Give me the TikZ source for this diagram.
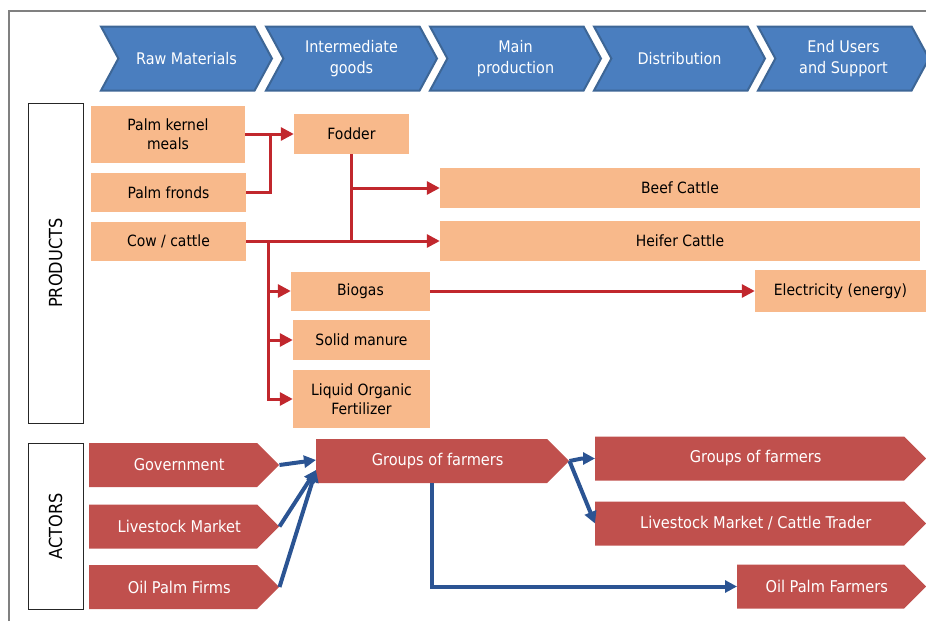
\documentclass[tikz,border=0pt]{standalone}
\usepackage{fontspec}
\setmainfont{DejaVu Sans Condensed}
\usetikzlibrary{shapes.symbols,arrows.meta,calc}

\definecolor{stageblue}{HTML}{4A7EBF}
\definecolor{stageedge}{HTML}{3D6696}
\definecolor{peach}{HTML}{F8B98B}
\definecolor{flowred}{HTML}{C1272D}
\definecolor{actorred}{HTML}{C0504D}
\definecolor{flowblue}{HTML}{2B5493}
\definecolor{framegray}{HTML}{808080}

\begin{document}
\begin{tikzpicture}[x=1pt,y=-1pt,
  stage/.style={signal, signal from=west, signal to=east, signal pointer angle=123,
    fill=stageblue, draw=stageedge, line width=2pt, minimum width=171pt, minimum height=64pt,
    inner sep=0pt, text=white, align=center, font=\fontsize{16}{21}\selectfont},
  prod/.style={fill=peach, inner sep=0pt, align=center, font=\fontsize{15.5}{19.5}\selectfont},
  actor/.style={signal, signal to=east, signal pointer angle=90, fill=actorred,
    inner sep=0pt, minimum height=44pt, anchor=west, text=white, font=\fontsize{16.2}{19}\selectfont,
    execute at begin node=\hspace*{12pt}},
  sidebox/.style={draw=black!85, line width=1pt, rotate=90, minimum height=55pt,
    inner sep=0pt, font=\fontsize{18}{20}\selectfont},
  redflow/.style={flowred, line width=3pt},
  blueflow/.style={flowblue, line width=4pt},
  redtip/.style={-{Triangle[length=13pt,width=13pt]}},
  bluetip/.style={-{Triangle[length=12pt,width=12pt]}}]
  \useasboundingbox (0,0) rectangle (926,621);
  \draw[framegray, line width=1.5pt] (9,621) -- (9,11) -- (926,11);

  % stages
  \node[stage] (raw) at (186.5,58.5) {Raw Materials};
  \node[stage] (inter) at (351.5,58.5) {Intermediate\\goods};
  \node[stage] (mainp) at (515.5,58.5) {Main\\production};
  \node[stage] (distr) at (679.5,58.5) {Distribution};
  \node[stage] (endu) at (843.5,58.5) {End Users\\and Support};

  % products
  \node[sidebox, minimum width=320pt] (products) at (55.5,263) {PRODUCTS};
  \node[prod, minimum width=154pt, minimum height=57pt] (pkm) at (168,134) {Palm kernel\\meals};
  \node[prod, minimum width=155pt, minimum height=39pt] (fronds) at (168.5,192.5) {Palm fronds};
  \node[prod, minimum width=155pt, minimum height=39pt] (cow) at (168.5,241) {Cow / cattle};
  \node[prod, minimum width=115pt, minimum height=40pt] (fodder) at (351.5,134) {Fodder};
  \node[prod, minimum width=480pt, minimum height=40pt] (beef) at (680,188) {Beef Cattle};
  \node[prod, minimum width=480pt, minimum height=40pt] (heifer) at (680,241) {Heifer Cattle};
  \node[prod, minimum width=139pt, minimum height=39pt] (biogas) at (360.5,291) {Biogas};
  \node[prod, minimum width=171pt, minimum height=42pt] (elec) at (840.5,291) {Electricity (energy)};
  \node[prod, minimum width=137pt, minimum height=40pt] (solid) at (361.5,340) {Solid manure};
  \node[prod, minimum width=137pt, minimum height=58pt] (liquid) at (361.5,399) {Liquid Organic\\Fertilizer};

  \coordinate (feed) at (270,134);
  \coordinate (manure) at ([xshift=22pt]cow.east);
  \draw[redflow, redtip] (pkm.east) -- (fodder.west);
  \draw[redflow] (fronds.east) -| (feed);
  \draw[redflow] (fodder.south) -- (fodder.south |- heifer.west);
  \draw[redflow, redtip] (fodder.south |- beef.west) -- (beef.west);
  \draw[redflow, redtip] (cow.east) -- (heifer.west);
  \draw[redflow, redtip] (manure) |- (liquid.west);
  \draw[redflow, redtip] (manure |- biogas.west) -- (biogas.west);
  \draw[redflow, redtip] (manure |- solid.west) -- (solid.west);
  \draw[redflow, redtip] (biogas.east) -- (elec.west);

  % actors
  \node[sidebox, minimum width=166pt] (actors) at (55.5,526) {ACTORS};
  \node[actor, minimum width=190pt] (gov) at (89,465) {Government};
  \node[actor, minimum width=190pt] (lm) at (89,526.5) {Livestock Market};
  \node[actor, minimum width=190pt] (opf) at (89,587) {Oil Palm Firms};
  \node[actor, minimum width=253pt] (gof) at (316,461) {Groups of farmers};
  \node[actor, minimum width=331pt] (gof2) at (595,458.5) {Groups of farmers};
  \node[actor, minimum width=331pt] (lmct) at (595,523.5) {Livestock Market / Cattle Trader};
  \node[actor, minimum width=189pt] (opfm) at (737,586.5) {Oil Palm Farmers};

  \draw[blueflow, bluetip] (gov.east) -- ([yshift=1pt]gof.west);
  \draw[blueflow, bluetip] (lm.east) -- ([yshift=-9pt]gof.west);
  \draw[blueflow, bluetip] (opf.east) -- ([yshift=-9pt]gof.west);
  \draw[blueflow, bluetip] (gof.east) -- ([xshift=-13pt]gof2.west) -- (gof2.west);
  \draw[blueflow, bluetip] (gof.east) -- (lmct.west);
  \draw[blueflow, bluetip] ($(gof.west |- gof.south)+(116,0)$) |- (opfm.west);
\end{tikzpicture}
\end{document}
